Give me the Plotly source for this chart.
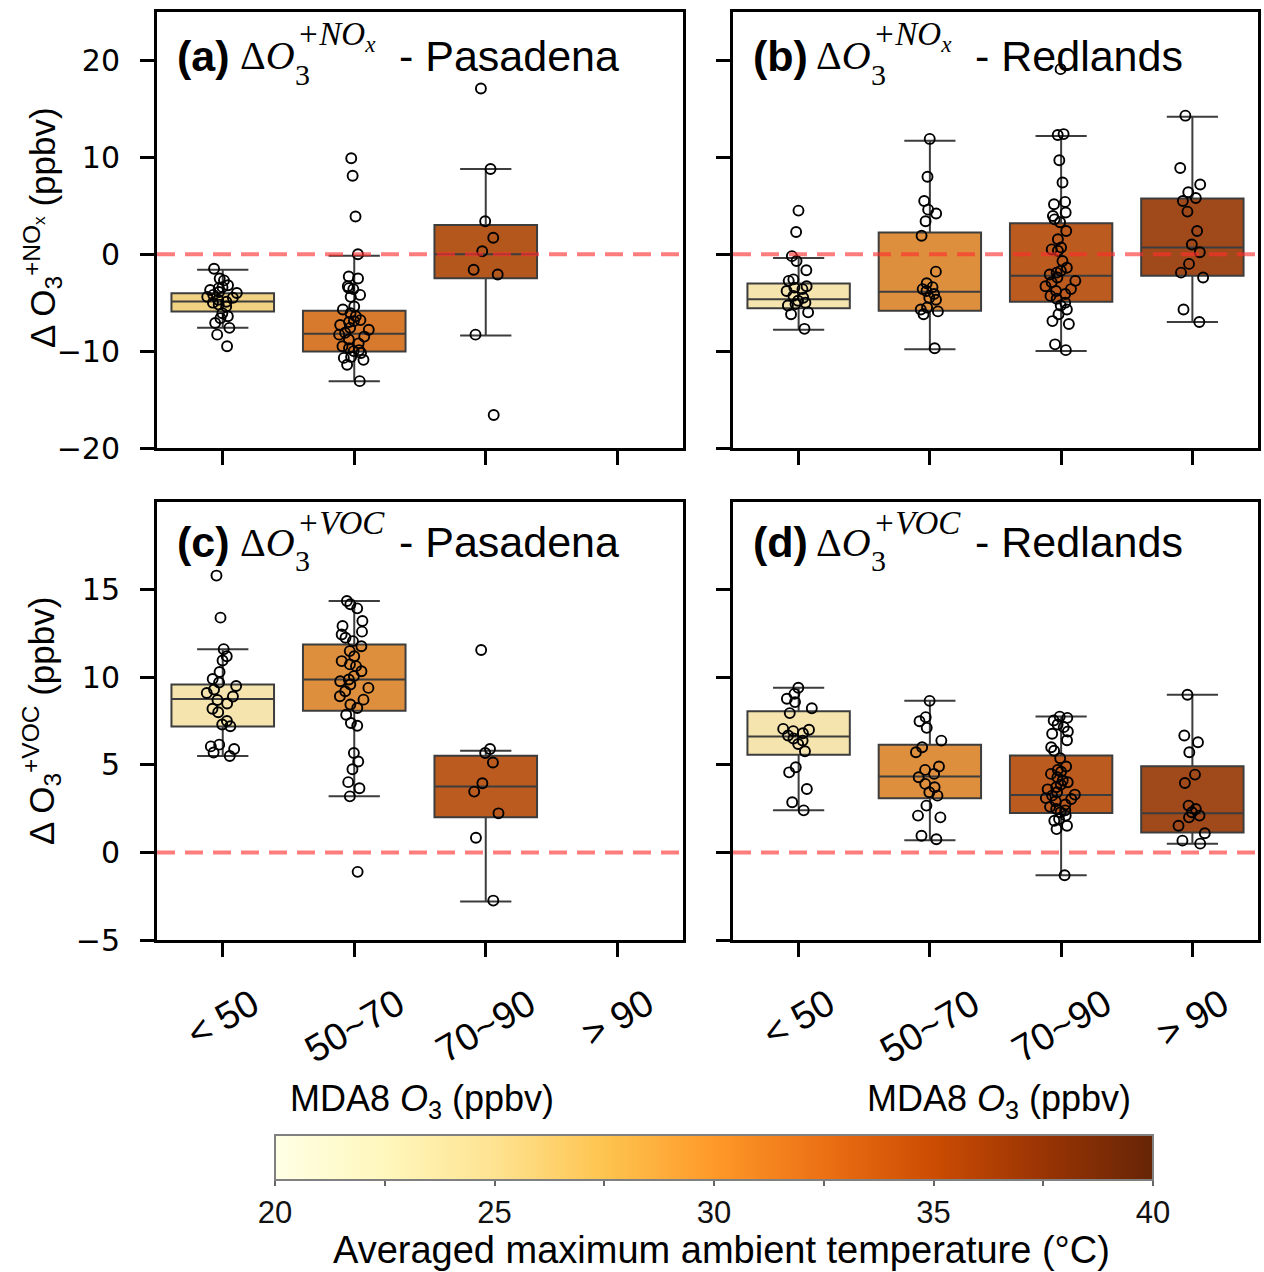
import html
import plotly.graph_objects as go

W, H = 1264, 1272

# O3 bins (x categories)
categories = ["< 50", "50~70", "70~90", "> 90"]

# ---- (a) dO3(+NOx), Pasadena ----
pas_nox_q1 = [-5.91, -10.03, -2.47]
pas_nox_med = [-4.88, -8.21, 0.0]
pas_nox_q3 = [-4.02, -5.84, 3.02]
pas_nox_lo = [-7.6, -13.1, -8.4]
pas_nox_hi = [-1.6, -0.15, 8.8]
pas_nox_lt50 = [-1.5, -2.5, -2.7, -3.2, -3.4, -3.5, -3.7, -3.9, -4.0, -4.2, -4.4, -4.5,
                -4.7, -4.9, -5.0, -5.2, -5.4, -6.1, -6.4, -6.6, -7.1, -7.6, -8.3, -9.5]
pas_nox_50_70 = [9.9, 8.1, 3.9, 0.0, -2.3, -2.5, -3.3, -3.5, -3.6, -4.2, -4.4, -5.4,
                 -5.7, -6.1, -6.4, -6.8, -6.9, -7.0, -7.3, -7.6, -7.8, -8.1, -8.3, -8.5,
                 -8.8, -9.2, -9.5, -9.7, -9.9, -10.0, -10.2, -10.6, -10.7, -10.9, -11.4, -13.1]
pas_nox_70_90 = [17.1, 8.8, 3.4, 1.7, 0.3, -1.6, -2.1, -8.3, -16.6]

# ---- (b) dO3(+NOx), Redlands ----
red_nox_q1 = [-5.57, -5.84, -4.91, -2.23]
red_nox_med = [-4.64, -3.88, -2.23, 0.69]
red_nox_q3 = [-3.02, 2.23, 3.2, 5.74]
red_nox_lo = [-7.8, -9.8, -10.0, -7.0]
red_nox_hi = [-0.4, 11.7, 12.2, 14.2]
red_nox_lt50 = [4.5, 2.3, -0.2, -0.7, -1.65, -2.6, -2.75, -3.3, -3.45, -3.6, -3.8, -4.3,
                -4.5, -4.8, -5.0, -5.15, -5.3, -6.0, -6.2, -7.7]
red_nox_50_70 = [11.9, 8.0, 5.5, 4.6, 4.2, 3.4, 1.9, -1.8, -3.0, -3.4, -3.6, -3.8, -4.1,
                 -4.5, -4.7, -5.5, -5.7, -5.9, -6.2, -9.7]
red_nox_70_90 = [19.1, 12.4, 12.3, 9.7, 7.4, 5.4, 5.15, 4.3, 3.95, 3.6, 3.3, 2.4, 1.55,
                 0.7, 0.5, 0.35, -0.7, -1.4, -1.7, -1.9, -2.1, -2.4, -2.75, -2.9, -3.3,
                 -3.6, -3.8, -4.1, -4.3, -4.6, -5.0, -5.3, -5.7, -6.2, -6.9, -7.2, -9.3, -9.9]
red_nox_gt90 = [14.3, 8.9, 7.2, 6.4, 5.8, 5.5, 4.4, 2.4, 1.0, 0.2, -1.0, -1.9, -2.4, -5.7, -7.0]

# ---- (c) dO3(+VOC), Pasadena ----
pas_voc_q1 = [7.19, 8.09, 2.0]
pas_voc_med = [8.76, 9.87, 3.76]
pas_voc_q3 = [9.58, 11.87, 5.52]
pas_voc_lo = [5.5, 3.2, -2.8]
pas_voc_hi = [11.6, 14.35, 5.8]
pas_voc_lt50 = [15.8, 13.4, 11.6, 11.2, 10.95, 10.3, 9.9, 9.7, 9.5, 9.3, 9.1, 8.9, 8.7,
                8.5, 8.2, 8.0, 7.5, 7.3, 7.2, 6.15, 6.05, 5.9, 5.7, 5.5]
pas_voc_50_70 = [14.35, 14.16, 13.93, 13.21, 12.92, 12.6, 12.44, 12.25, 12.06, 11.77,
                 11.49, 11.2, 10.92, 10.73, 10.63, 10.34, 10.06, 9.87, 9.77, 9.58, 9.39,
                 9.2, 8.91, 8.72, 8.44, 8.24, 7.86, 7.39, 7.23, 5.67, 5.19, 4.75, 4.01,
                 3.66, 3.2, -1.11]
pas_voc_70_90 = [11.55, 5.9, 5.67, 5.13, 3.95, 3.47, 2.23, 0.84, -2.75]

# ---- (d) dO3(+VOC), Redlands ----
red_voc_q1 = [5.57, 3.09, 2.25, 1.14]
red_voc_med = [6.61, 4.33, 3.28, 2.23]
red_voc_q3 = [8.06, 6.14, 5.53, 4.92]
red_voc_lo = [2.4, 0.7, -1.3, 0.5]
red_voc_hi = [9.4, 8.65, 7.75, 9.0]
red_voc_lt50 = [9.4, 9.05, 8.77, 8.58, 8.23, 7.95, 7.05, 7.0, 6.92, 6.8, 6.67, 6.5, 6.38,
                6.19, 5.77, 4.86, 4.57, 3.62, 2.86, 2.4]
red_voc_50_70 = [8.65, 7.72, 7.49, 7.11, 6.38, 6.0, 5.72, 4.9, 4.71, 4.48, 4.29, 3.91,
                 3.72, 3.43, 3.24, 2.67, 2.1, 2.0, 0.95, 0.75]
red_voc_70_90 = [7.75, 7.68, 7.53, 7.3, 7.15, 6.9, 6.77, 6.4, 6.0, 5.8, 5.37, 4.9, 4.71,
                 4.6, 4.48, 4.29, 4.1, 4.0, 3.87, 3.72, 3.6, 3.43, 3.3, 3.24, 3.1, 3.05,
                 2.92, 2.73, 2.6, 2.48, 2.4, 2.29, 2.1, 1.9, 1.81, 1.52, 1.33, -1.3]
red_voc_gt90 = [9.0, 6.67, 6.29, 5.72, 4.44, 3.96, 2.67, 2.48, 2.29, 2.1, 2.0, 1.52, 1.09,
                0.67, 0.5]

# colourbar range (averaged max ambient temperature, deg C)
temp_range = [20, 40]
temp_ticks = [20, 22.5, 25, 27.5, 30, 32.5, 35, 37.5, 40]

# box fills, sampled from YlOrBr by bin temperature (desaturated)
COL_PAS = ["#f1d283", "#d87a2e", "#b3571d"]
COL_PAS_VOC = ["#f5e4ae", "#de8f3e", "#bb5b1f"]
COL_RED = ["#f5e4ae", "#de8f3e", "#bb5b1f", "#a04a1b"]

EDGE = "#3d3d3d"
SANS = "Liberation Sans, Arial, sans-serif"
SERIF = "Liberation Serif, Times New Roman, serif"


def px_x(px):
    return px / W


def px_y(py):
    return 1 - py / H


panels = [
    dict(xa="x", ya="y", q1=pas_nox_q1, med=pas_nox_med, q3=pas_nox_q3, lo=pas_nox_lo,
         hi=pas_nox_hi, pts=[pas_nox_lt50, pas_nox_50_70, pas_nox_70_90], cols=COL_PAS),
    dict(xa="x2", ya="y2", q1=red_nox_q1, med=red_nox_med, q3=red_nox_q3, lo=red_nox_lo,
         hi=red_nox_hi, pts=[red_nox_lt50, red_nox_50_70, red_nox_70_90, red_nox_gt90],
         cols=COL_RED),
    dict(xa="x3", ya="y3", q1=pas_voc_q1, med=pas_voc_med, q3=pas_voc_q3, lo=pas_voc_lo,
         hi=pas_voc_hi, pts=[pas_voc_lt50, pas_voc_50_70, pas_voc_70_90], cols=COL_PAS_VOC),
    dict(xa="x4", ya="y4", q1=red_voc_q1, med=red_voc_med, q3=red_voc_q3, lo=red_voc_lo,
         hi=red_voc_hi, pts=[red_voc_lt50, red_voc_50_70, red_voc_70_90, red_voc_gt90],
         cols=COL_RED),
]

fig = go.Figure()

for p in panels:
    for i, pts in enumerate(p["pts"]):
        # box from the summary statistics
        fig.add_trace(go.Box(
            x=[i], q1=[p["q1"][i]], median=[p["med"][i]], q3=[p["q3"][i]],
            lowerfence=[p["lo"][i]], upperfence=[p["hi"][i]],
            width=0.78, whiskerwidth=0.5, fillcolor=p["cols"][i],
            line=dict(color=EDGE, width=2), boxpoints=False,
            xaxis=p["xa"], yaxis=p["ya"], showlegend=False, hoverinfo="skip"))
        # daily values as a jittered strip over the box
        fig.add_trace(go.Box(
            x=[i] * len(pts), y=pts, width=0.78, boxpoints="all", jitter=0.32, pointpos=0,
            fillcolor="rgba(0,0,0,0)", line=dict(width=0, color="rgba(0,0,0,0)"),
            marker=dict(symbol="circle-open", size=10, color="black", line=dict(width=1.9)),
            xaxis=p["xa"], yaxis=p["ya"], showlegend=False, hoverinfo="skip"))
    fig.add_shape(type="line", xref=p["xa"], yref=p["ya"], x0=-0.5, x1=3.5, y0=0, y1=0,
                  line=dict(color="rgba(255,45,45,0.62)", width=4, dash="18px,10px"))

# carrier trace for the temperature colourbar (point sits outside the axis range)
fig.add_trace(go.Scatter(
    x=[-5], y=[0], mode="markers", xaxis="x", yaxis="y", showlegend=False, hoverinfo="skip",
    marker=dict(size=1, color=[30], colorscale="YlOrBr", cmin=temp_range[0], cmax=temp_range[1],
                showscale=True,
                colorbar=dict(orientation="h", x=px_x((275 + 1153) / 2), xanchor="center",
                              y=px_y(1135), yanchor="top", len=878, lenmode="pixels",
                              thickness=45, thicknessmode="pixels", xpad=0, ypad=0,
                              outlinecolor="#808080", outlinewidth=2,
                              ticks="outside", ticklen=5, tickwidth=2, tickcolor="#666",
                              tickvals=temp_ticks,
                              ticktext=[("%g" % t) if t % 5 == 0 else "" for t in temp_ticks],
                              tickfont=dict(family=SANS, size=31, color="#111")))))

xdom_l = [px_x(157), px_x(683)]
xdom_r = [px_x(733), px_x(1258)]
ydom_t = [px_y(448), px_y(12)]
ydom_b = [px_y(940), px_y(502)]

axis_common = dict(showline=True, linewidth=3, linecolor="black", mirror=True,
                   showgrid=False, zeroline=False, ticks="outside", ticklen=14,
                   tickwidth=3, tickcolor="black")
x_common = dict(axis_common, range=[-0.5, 3.5], tickvals=[0, 1, 2, 3], showticklabels=False)

top_ticks = [-20, -10, 0, 10, 20]
bot_ticks = [-5, 0, 5, 10, 15]


def tick_text(vals):
    return [str(v).replace("-", "\u2212") for v in vals]


yfont = dict(family="DejaVu Sans, sans-serif", size=30, color="black")

fig.update_layout(
    width=W, height=H, margin=dict(l=0, r=0, t=0, b=0, autoexpand=False),
    paper_bgcolor="white", plot_bgcolor="white", boxmode="overlay",
    xaxis=dict(x_common, domain=xdom_l, anchor="y"),
    xaxis2=dict(x_common, domain=xdom_r, anchor="y2"),
    xaxis3=dict(x_common, domain=xdom_l, anchor="y3"),
    xaxis4=dict(x_common, domain=xdom_r, anchor="y4"),
    yaxis=dict(axis_common, domain=ydom_t, anchor="x", range=[-20, 25], tickvals=top_ticks,
               ticktext=tick_text(top_ticks), tickfont=yfont, ticklabelstandoff=14),
    yaxis2=dict(axis_common, domain=ydom_t, anchor="x2", range=[-20, 25], tickvals=top_ticks,
                showticklabels=False),
    yaxis3=dict(axis_common, domain=ydom_b, anchor="x3", range=[-5, 20], tickvals=bot_ticks,
                ticktext=tick_text(bot_ticks), tickfont=yfont, ticklabelstandoff=14),
    yaxis4=dict(axis_common, domain=ydom_b, anchor="x4", range=[-5, 20], tickvals=bot_ticks,
                showticklabels=False),
)


def note(text, x, y, size, family=SANS, xanchor="left", angle=0):
    fig.add_annotation(text=text, xref="paper", yref="paper", x=px_x(x), y=px_y(y),
                       xanchor=xanchor, yanchor="middle", textangle=angle,
                       showarrow=False, font=dict(family=family, size=size, color="black"))


# panel titles: tag, species superscript, site, left edge and text centre line (px)
titles = [
    ("(a)", "+NO<sub>x</sub>", "Pasadena", 157, 56),
    ("(b)", "+NO<sub>x</sub>", "Redlands", 733, 56),
    ("(c)", "+VOC", "Pasadena", 157, 542),
    ("(d)", "+VOC", "Redlands", 733, 542),
]
for tag, sup, site, x0, yc in titles:
    note("<b>%s</b>" % tag, x0 + 18, yc, 43)
    note("\u0394<i>O</i>", x0 + 81, yc, 40, family=SERIF)
    note("3", x0 + 136, yc + 18, 30, family=SERIF)
    note("<i>%s</i>" % sup, x0 + 138, yc - 19, 33, family=SERIF)
    note("- %s" % site, x0 + 240, yc, 43)

# y-axis titles
note("\u0394 O<sub>3</sub><sup>+NO<sub>x</sub></sup> (ppbv)", 43, 228, 35,
     xanchor="center", angle=-90)
note("\u0394 O<sub>3</sub><sup>+VOC</sup> (ppbv)", 41, 721, 35, xanchor="center", angle=-90)

# rotated category labels under the lower panels
for xa in ["x3", "x4"]:
    for i, cat in enumerate(categories):
        fig.add_annotation(text=html.escape(cat), xref=xa, yref="paper", x=i, y=px_y(978),
                           xanchor="center", yanchor="top", textangle=-30, showarrow=False,
                           font=dict(family=SANS, size=38, color="black"))

# x-axis titles
for x0 in [288, 865]:
    note("MDA8 <i>O</i><sub>3</sub> (ppbv)", x0, 1101, 36)

# colourbar title
note("Averaged maximum ambient temperature (\u00b0C)", 721, 1250, 38, xanchor="center")

fig.write_html("out.html")
